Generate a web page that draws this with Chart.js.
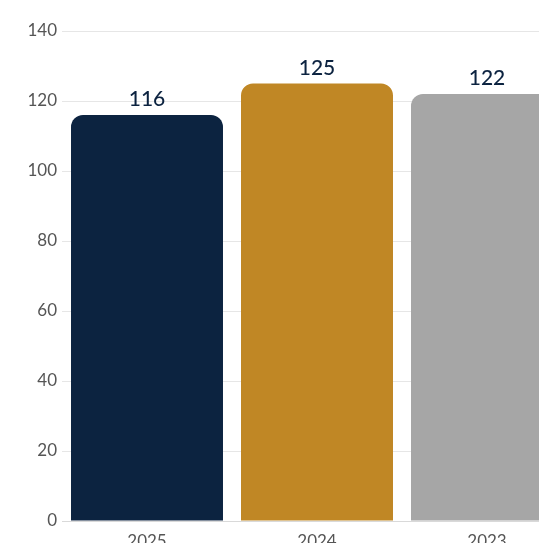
<!DOCTYPE html>
<html>
<head>
<meta charset="utf-8">
<script src="https://cdn.jsdelivr.net/npm/chart.js@4"></script>
<style>
  html, body { margin: 0; padding: 0; overflow: hidden; background: #fff; }
  #wrap { width: 580px; height: 560px; }
</style>
</head>
<body>
<div id="wrap"><canvas id="barChart" width="580" height="560"></canvas></div>
<script>
const years = ['2025', '2024', '2023'];
const values = [116, 125, 122];
const barColors = ['#0c2340', '#c08725', '#a6a6a6'];
const yTicks = [0, 20, 40, 60, 80, 100, 120, 140];

// simple value labels above each bar
const topLabels = {
    id: 'topLabels',
    afterDatasetsDraw(chart) {
        const ctx = chart.ctx;
        const meta = chart.getDatasetMeta(0);
        ctx.save();
        ctx.fillStyle = '#0c2340';
        ctx.font = '500 21px Lato';
        ctx.textAlign = 'center';
        ctx.textBaseline = 'bottom';
        meta.data.forEach((bar, i) => {
            ctx.fillText(values[i], bar.x, bar.y - 5);
        });
        ctx.restore();
    }
};

const ctx = document.getElementById('barChart').getContext('2d');
const chart = new Chart(ctx, {
    type: 'bar',
    data: {
        labels: years,
        datasets: [{
            data: values,
            backgroundColor: barColors,
            borderRadius: { topLeft: 12, topRight: 12 },
            borderSkipped: 'bottom',
            barPercentage: 0.894,
            categoryPercentage: 1
        }]
    },
    options: {
        responsive: false,
        animation: false,
        layout: { padding: { top: 31, right: 8, left: 0, bottom: 0 } },
        plugins: {
            legend: { display: false },
            tooltip: { enabled: false }
        },
        scales: {
            x: {
                offset: true,
                grid: { display: false },
                border: { display: true, color: '#d9d9d9', width: 1 },
                ticks: { color: '#555', font: { family: 'Lato', size: 17 }, padding: 2 },
                afterFit(scale) { scale.height = 39; }
            },
            y: {
                min: 0,
                max: 140,
                afterBuildTicks(scale) { scale.ticks = yTicks.map(v => ({ value: v })); },
                grid: { color: '#e6e6e6', drawTicks: false },
                border: { display: false },
                ticks: { color: '#555', font: { family: 'Lato', size: 17 }, padding: 5 },
                afterFit(scale) { scale.width = 62; }
            }
        }
    },
    plugins: [topLabels]
});
</script>
</body>
</html>
